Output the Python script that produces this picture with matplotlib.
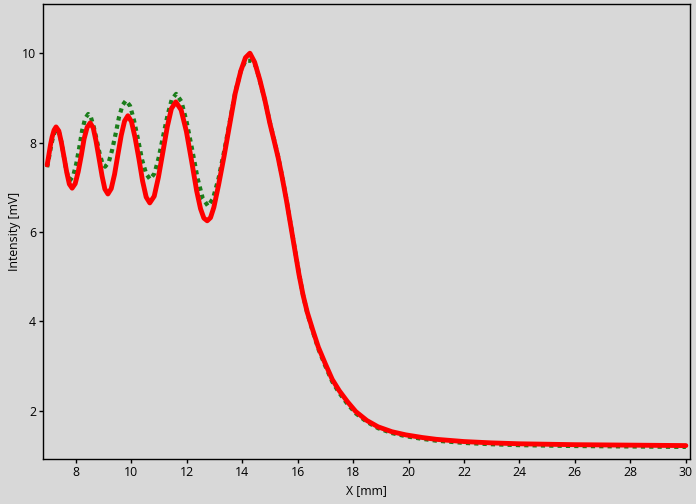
import matplotlib
matplotlib.use("Agg")
import matplotlib.pyplot as plt

plt.rcParams['font.family'] = ['Open Sans', 'DejaVu Sans']

# Red curve (solid)
red_x = [6.97, 7.03, 7.09, 7.15, 7.22, 7.29,
         7.39, 7.48, 7.58, 7.68, 7.77, 7.87,
         7.98, 8.09, 8.20, 8.30, 8.41, 8.52,
         8.63, 8.73, 8.84, 8.95, 9.05, 9.16,
         9.28, 9.40, 9.52, 9.64, 9.76, 9.88,
         10.01, 10.14, 10.28, 10.41, 10.54, 10.67,
         10.83, 10.98, 11.14, 11.30, 11.45, 11.61,
         11.80, 11.99, 12.18, 12.36, 12.50, 12.62, 12.74,
         12.86, 12.98, 13.15, 13.35, 13.55, 13.75, 13.95, 14.12, 14.28,
         14.45, 14.64, 14.82, 15.00, 15.15, 15.30, 15.45, 15.60, 15.75,
         15.90, 16.05, 16.20, 16.35, 16.55, 16.75, 17.00, 17.25, 17.50,
         17.80, 18.10, 18.50, 18.90, 19.40, 19.90, 20.50, 21.00, 22.00,
         23.00, 24.00, 25.00, 26.00, 28.00, 30.00]
red_y = [7.50, 7.72, 7.95, 8.13, 8.28, 8.35,
         8.26, 8.01, 7.67, 7.32, 7.07, 6.98,
         7.08, 7.35, 7.71, 8.08, 8.34, 8.44,
         8.33, 8.04, 7.65, 7.25, 6.96, 6.85,
         6.97, 7.29, 7.73, 8.16, 8.48, 8.60,
         8.47, 8.11, 7.63, 7.14, 6.78, 6.65,
         6.80, 7.22, 7.78, 8.35, 8.76, 8.91,
         8.73, 8.25, 7.58, 6.92, 6.52, 6.31, 6.25,
         6.32, 6.55, 7.05, 7.70, 8.40, 9.10, 9.60, 9.90, 10.00,
         9.80, 9.40, 8.95, 8.43, 8.05, 7.66, 7.20, 6.70, 6.15,
         5.60, 5.05, 4.58, 4.20, 3.80, 3.42, 3.05, 2.70, 2.45,
         2.20, 1.98, 1.78, 1.64, 1.53, 1.46, 1.40, 1.36, 1.31,
         1.28, 1.26, 1.25, 1.24, 1.23, 1.22]

# Green curve (dotted)
green_x = [6.97, 7.04, 7.11, 7.18, 7.25, 7.32,
           7.40, 7.48, 7.56, 7.64, 7.72, 7.80,
           7.91, 8.02, 8.13, 8.23, 8.34, 8.45,
           8.55, 8.65, 8.76, 8.86, 8.96, 9.06,
           9.19, 9.31, 9.44, 9.56, 9.69, 9.81,
           9.96, 10.10, 10.25, 10.39, 10.54, 10.68,
           10.84, 10.99, 11.15, 11.31, 11.46, 11.62,
           11.81, 12.00, 12.20, 12.39, 12.58, 12.77,
           12.95, 13.15, 13.35, 13.55, 13.75, 13.95, 14.12, 14.35, 14.50,
           14.64, 14.82, 15.00, 15.15, 15.30, 15.45, 15.60, 15.75,
           15.90, 16.05, 16.20, 16.35, 16.55, 16.75, 17.00, 17.25, 17.50,
           17.80, 18.10, 18.50, 18.90, 19.40, 19.90, 20.50, 21.00, 22.00,
           23.00, 24.00, 25.00, 26.00, 28.00, 30.00]
green_y = [7.45, 7.68, 7.92, 8.12, 8.25, 8.30,
           8.22, 8.02, 7.73, 7.45, 7.24, 7.16,
           7.26, 7.53, 7.90, 8.27, 8.54, 8.64,
           8.56, 8.35, 8.05, 7.76, 7.54, 7.46,
           7.56, 7.83, 8.20, 8.57, 8.84, 8.94,
           8.82, 8.50, 8.06, 7.62, 7.30, 7.18,
           7.31, 7.66, 8.14, 8.61, 8.96, 9.09,
           8.92, 8.46, 7.84, 7.21, 6.75, 6.58,
           6.75, 7.20, 7.80, 8.45, 9.12, 9.60, 9.83, 9.83, 9.70,
           9.38, 8.95, 8.45, 8.07, 7.68, 7.22, 6.72, 6.17,
           5.62, 5.07, 4.58, 4.18, 3.77, 3.38, 3.00, 2.65, 2.40,
           2.15, 1.94, 1.75, 1.61, 1.50, 1.43, 1.37, 1.33, 1.28,
           1.25, 1.23, 1.22, 1.21, 1.20, 1.19]

bg = '#d8d8d8'
fig = plt.figure(figsize=(6.96, 5.04), dpi=100, facecolor=bg)
ax = fig.add_axes([0.0618, 0.0893, 0.9296, 0.9027], facecolor=bg)

ax.plot(green_x, green_y, color='#1a7d1a', lw=3, linestyle=(0, (1, 1)), zorder=2)
ax.plot(red_x, red_y, color='#ff0000', lw=3.5, solid_capstyle='round',
        solid_joinstyle='round', zorder=3)

ax.set_xlim(6.82, 30.15)
ax.set_ylim(0.92, 11.1)
ax.set_xticks(range(8, 31, 2))
ax.set_yticks(range(2, 11, 2))

for s in ax.spines.values():
    s.set_color('black')
    s.set_linewidth(1)
ax.tick_params(direction='out', length=3, width=1, labelsize=8.8, pad=2)

ax.set_xlabel('X [mm]', fontsize=8.8, labelpad=4)
ax.set_ylabel('Intensity [mV]', fontsize=8.8, labelpad=1)

fig.savefig('out.png', dpi=100, facecolor=bg)
